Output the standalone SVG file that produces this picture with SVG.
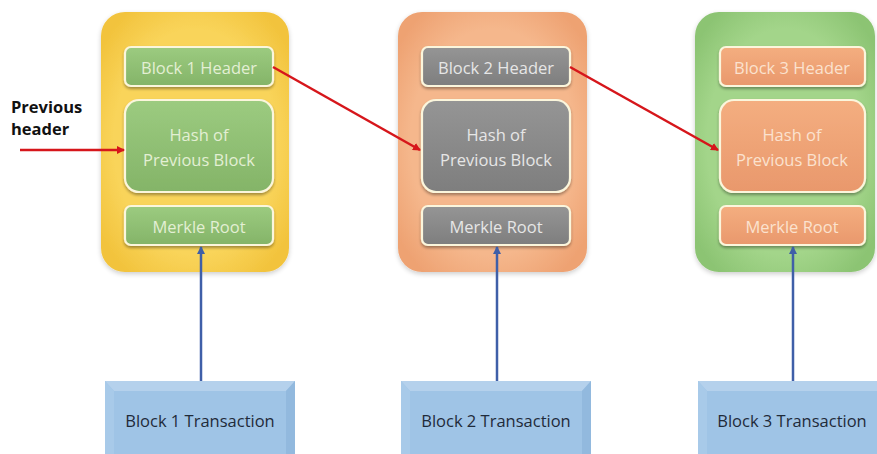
<svg xmlns="http://www.w3.org/2000/svg" width="877" height="454" viewBox="0 0 877 454">
  <defs>
    <style>
      .lbl { font-family: "Open Sans", "Noto Sans", "Liberation Sans", sans-serif; font-size: 16.5px; text-anchor: middle; dominant-baseline: central; }
      .tx { font-family: "Open Sans", "Noto Sans", "Liberation Sans", sans-serif; font-size: 16.5px; fill: #1f2b3a; text-anchor: middle; dominant-baseline: central; }
      .side { font-family: "Open Sans", "Noto Sans", "Liberation Sans", sans-serif; font-size: 16.5px; font-weight: bold; fill: #111; }
      .inner { stroke: #fbf6dc; stroke-width: 2.2; filter: url(#sh); }
      .red { stroke: #d6161b; stroke-width: 2.5; fill: none; marker-end: url(#ar); }
      .blue { stroke: #3f5fa8; stroke-width: 2.5; fill: none; marker-end: url(#ab); }
    </style>
    <filter id="sh" x="-20%" y="-20%" width="140%" height="150%">
      <feGaussianBlur in="SourceAlpha" stdDeviation="1.5"/>
      <feOffset dx="0" dy="2" result="b"/>
      <feComponentTransfer><feFuncA type="linear" slope="0.35"/></feComponentTransfer>
      <feMerge><feMergeNode/><feMergeNode in="SourceGraphic"/></feMerge>
    </filter>
    <filter id="osh" x="-10%" y="-10%" width="120%" height="120%">
      <feGaussianBlur in="SourceAlpha" stdDeviation="2.5"/>
      <feOffset dx="0" dy="2"/>
      <feComponentTransfer><feFuncA type="linear" slope="0.2"/></feComponentTransfer>
      <feMerge><feMergeNode/><feMergeNode in="SourceGraphic"/></feMerge>
    </filter>
    <radialGradient id="gY" cx="50%" cy="50%" r="62%">
      <stop offset="0.7" stop-color="#f9d45a"/>
      <stop offset="1" stop-color="#f2c33c"/>
    </radialGradient>
    <radialGradient id="gO" cx="50%" cy="50%" r="62%">
      <stop offset="0.7" stop-color="#f5b78c"/>
      <stop offset="1" stop-color="#eea272"/>
    </radialGradient>
    <radialGradient id="gG" cx="50%" cy="50%" r="62%">
      <stop offset="0.7" stop-color="#a3d58a"/>
      <stop offset="1" stop-color="#8cc473"/>
    </radialGradient>
    <linearGradient id="iG" x1="0" y1="0" x2="0" y2="1">
      <stop offset="0" stop-color="#9ccb80"/>
      <stop offset="1" stop-color="#84b468"/>
    </linearGradient>
    <linearGradient id="iD" x1="0" y1="0" x2="0" y2="1">
      <stop offset="0" stop-color="#959595"/>
      <stop offset="1" stop-color="#7e7e7e"/>
    </linearGradient>
    <linearGradient id="iO" x1="0" y1="0" x2="0" y2="1">
      <stop offset="0" stop-color="#f4ae80"/>
      <stop offset="1" stop-color="#e9986c"/>
    </linearGradient>
    <marker id="ar" markerWidth="8" markerHeight="8" refX="7" refY="4" orient="auto" markerUnits="userSpaceOnUse">
      <path d="M0,0 L8,4 L0,8 Z" fill="#d6161b"/>
    </marker>
    <marker id="ab" markerWidth="8" markerHeight="8" refX="7" refY="4" orient="auto" markerUnits="userSpaceOnUse">
      <path d="M0,0 L8,4 L0,8 Z" fill="#3f5fa8"/>
    </marker>
    <!-- bevelled transaction box, 190 wide -->
    <g id="txbox">
      <rect x="0" y="0" width="190" height="80" fill="#9fc4e6"/>
      <path d="M0,0 H190 L181,10 H9 Z" fill="#b5d1ec"/>
      <path d="M0,0 L9,10 V80 H0 Z" fill="#a8cae9"/>
      <path d="M190,0 L181,10 V80 H190 Z" fill="#92b9de"/>
    </g>
  </defs>

  <rect width="877" height="454" fill="#ffffff"/>

  <!-- Block 1 -->
  <g id="block1">
    <rect x="101" y="12" width="188" height="260" rx="24" fill="url(#gY)" filter="url(#osh)"/>
    <g id="b1-header">
      <rect class="inner" x="125" y="47" width="148" height="39" rx="6" fill="url(#iG)"/>
      <text class="lbl" x="199" y="67" fill="#e3efd4">Block 1 Header</text>
    </g>
    <g id="b1-hash">
      <rect class="inner" x="125" y="100" width="148" height="92" rx="14" fill="url(#iG)"/>
      <text class="lbl" x="199" y="134" fill="#e3efd4">Hash of</text>
      <text class="lbl" x="199" y="159" fill="#e3efd4">Previous Block</text>
    </g>
    <g id="b1-merkle">
      <rect class="inner" x="125" y="206" width="148" height="39" rx="6" fill="url(#iG)"/>
      <text class="lbl" x="199" y="226" fill="#e3efd4">Merkle Root</text>
    </g>
  </g>

  <!-- Block 2 -->
  <g id="block2">
    <rect x="398" y="12" width="189" height="260" rx="24" fill="url(#gO)" filter="url(#osh)"/>
    <g id="b2-header">
      <rect class="inner" x="422" y="47" width="148" height="39" rx="6" fill="url(#iD)"/>
      <text class="lbl" x="496" y="67" fill="#e6e6e6">Block 2 Header</text>
    </g>
    <g id="b2-hash">
      <rect class="inner" x="422" y="100" width="148" height="92" rx="14" fill="url(#iD)"/>
      <text class="lbl" x="496" y="134" fill="#e6e6e6">Hash of</text>
      <text class="lbl" x="496" y="159" fill="#e6e6e6">Previous Block</text>
    </g>
    <g id="b2-merkle">
      <rect class="inner" x="422" y="206" width="148" height="39" rx="6" fill="url(#iD)"/>
      <text class="lbl" x="496" y="226" fill="#e6e6e6">Merkle Root</text>
    </g>
  </g>

  <!-- Block 3 -->
  <g id="block3">
    <rect x="695" y="12" width="180" height="260" rx="24" fill="url(#gG)" filter="url(#osh)"/>
    <g id="b3-header">
      <rect class="inner" x="720" y="47" width="145" height="39" rx="6" fill="url(#iO)"/>
      <text class="lbl" x="792" y="67" fill="#fbe2cf">Block 3 Header</text>
    </g>
    <g id="b3-hash">
      <rect class="inner" x="720" y="100" width="145" height="92" rx="14" fill="url(#iO)"/>
      <text class="lbl" x="792" y="134" fill="#fbe2cf">Hash of</text>
      <text class="lbl" x="792" y="159" fill="#fbe2cf">Previous Block</text>
    </g>
    <g id="b3-merkle">
      <rect class="inner" x="720" y="206" width="145" height="39" rx="6" fill="url(#iO)"/>
      <text class="lbl" x="792" y="226" fill="#fbe2cf">Merkle Root</text>
    </g>
  </g>

  <!-- Transactions -->
  <g id="tx1">
    <use href="#txbox" x="105" y="381"/>
    <text class="tx" x="200" y="420">Block 1 Transaction</text>
  </g>
  <g id="tx2">
    <use href="#txbox" x="401" y="381"/>
    <text class="tx" x="496" y="420">Block 2 Transaction</text>
  </g>
  <g id="tx3">
    <use href="#txbox" x="698" y="381"/>
    <text class="tx" x="792" y="420">Block 3 Transaction</text>
  </g>

  <!-- Side label -->
  <g id="prev-label">
    <text class="side" x="11" y="113">Previous</text>
    <text class="side" x="11" y="135">header</text>
  </g>

  <!-- Connectors -->
  <g id="connectors">
    <line class="red" x1="20" y1="150" x2="124" y2="150"/>
    <line class="red" x1="273" y1="67" x2="420" y2="150"/>
    <line class="red" x1="570" y1="67" x2="718" y2="150"/>
    <line class="blue" x1="201" y1="381" x2="201" y2="247"/>
    <line class="blue" x1="497" y1="381" x2="497" y2="247"/>
    <line class="blue" x1="793" y1="381" x2="793" y2="247"/>
  </g>
</svg>
